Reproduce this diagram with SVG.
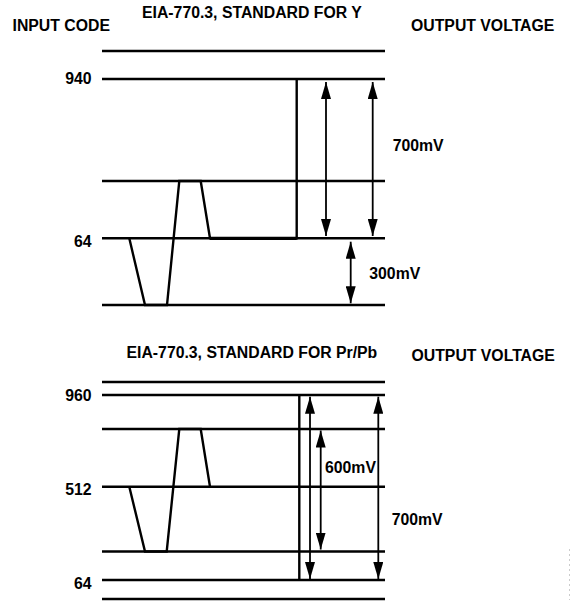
<svg xmlns="http://www.w3.org/2000/svg" width="572" height="601" viewBox="0 0 572 601">
<style>
text{font-family:"Liberation Sans",Arial,Helvetica,sans-serif;font-weight:bold;font-size:15.8px;fill:#000}
.lvl{stroke:#000;stroke-width:2.4;fill:none}
.wave{stroke:#000;stroke-width:2.4;fill:none;stroke-linejoin:miter}
.arr{stroke:#000;stroke-width:1.8;fill:none;marker-start:url(#ah);marker-end:url(#ah)}
.num{text-anchor:end}
</style>
<defs>
<marker id="ah" viewBox="0 0 17 10" refX="17" refY="5" markerWidth="17" markerHeight="10" markerUnits="userSpaceOnUse" orient="auto-start-reverse">
<path d="M0,0 L17,5 L0,10 Z" fill="#000"/>
</marker>
</defs>
<rect width="572" height="601" fill="#fff"/>

<g id="labels">
<text x="12.5" y="30.5">INPUT CODE</text>
<text x="142" y="17.5">EIA-770.3, STANDARD FOR Y</text>
<text x="411" y="30.7">OUTPUT VOLTAGE</text>
<text x="126.5" y="358">EIA-770.3, STANDARD FOR Pr/Pb</text>
<text x="411.5" y="361">OUTPUT VOLTAGE</text>
</g>

<g id="y-levels">
<line class="lvl" x1="102" y1="51" x2="385" y2="51"/>
<line class="lvl" x1="102" y1="79" x2="385" y2="79"/>
<line class="lvl" x1="102" y1="181" x2="385" y2="181"/>
<line class="lvl" x1="102" y1="238.3" x2="385" y2="238.3"/>
<line class="lvl" x1="102" y1="305" x2="385" y2="305"/>
<text class="num" x="91.5" y="84">940</text>
<text class="num" x="91.5" y="247">64</text>
</g>

<g id="y-waveform">
<polyline class="wave" points="129.3,238.3 145,305 167,305 179.3,181 200.7,181 210,238.3 296.7,238.3 296.7,79"/>
<line stroke="#000" stroke-width="3.2" x1="210" y1="238.3" x2="296.7" y2="238.3"/>
</g>

<g id="pb-levels">
<line class="lvl" x1="102" y1="382" x2="385" y2="382"/>
<line class="lvl" x1="102" y1="395" x2="385" y2="395"/>
<line class="lvl" x1="102" y1="429" x2="385" y2="429"/>
<line class="lvl" x1="102" y1="486.7" x2="385" y2="486.7"/>
<line class="lvl" x1="102" y1="551.5" x2="385" y2="551.5"/>
<line class="lvl" x1="102" y1="580" x2="385" y2="580"/>
<line class="lvl" x1="102" y1="599" x2="385" y2="599"/>
<text class="num" x="91.5" y="401">960</text>
<text class="num" x="91.5" y="495">512</text>
<text class="num" x="91.5" y="589">64</text>
</g>

<g id="pb-waveform">
<polyline class="wave" points="129.3,486.7 145,551.5 166.7,551.5 179.3,429 200.7,429 210,486.7"/>
<line class="lvl" x1="299.3" y1="395" x2="299.3" y2="580"/>
</g>

<g id="connectors">
<line class="arr" x1="326" y1="82" x2="326" y2="236"/>
<line class="arr" x1="372.7" y1="82" x2="372.7" y2="236"/>
<line class="arr" x1="350.7" y1="241.7" x2="350.7" y2="303.3"/>
<line class="arr" x1="310" y1="396.7" x2="310" y2="579"/>
<line class="arr" x1="320.7" y1="430.5" x2="320.7" y2="549.5"/>
<line class="arr" x1="378.3" y1="396.7" x2="378.3" y2="579"/>
</g>

<g id="dim-labels">
<text x="392.7" y="151">700mV</text>
<text x="369.3" y="278.5">300mV</text>
<text x="325" y="472.5">600mV</text>
<text x="391.7" y="525">700mV</text>
</g>

<line x1="569.5" y1="549" x2="569.5" y2="600" stroke="#ccc" stroke-width="1" stroke-dasharray="2,3"/>
</svg>
